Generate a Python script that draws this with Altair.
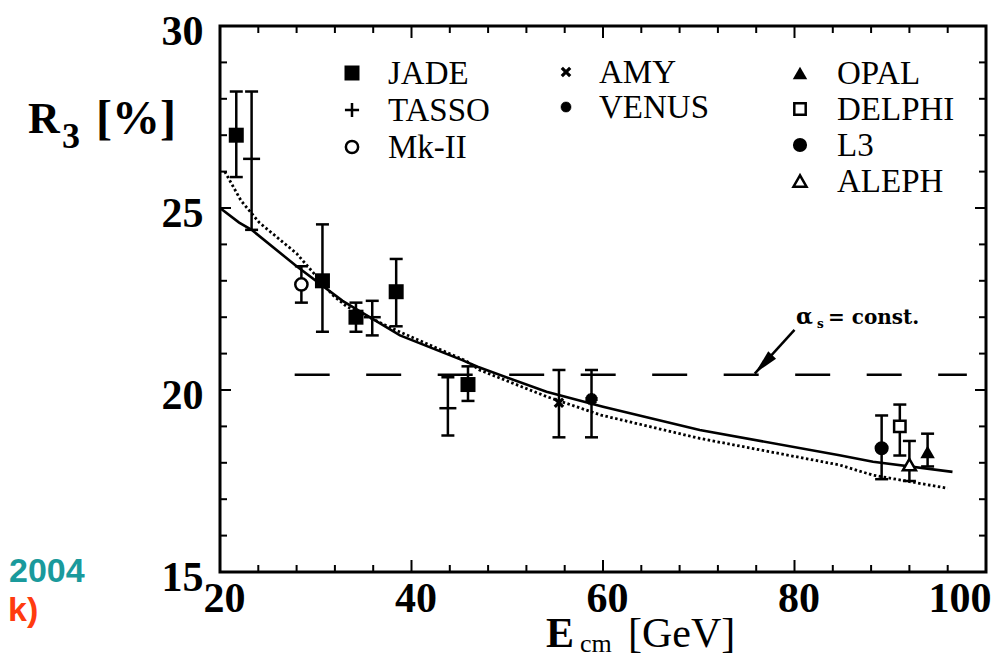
import altair as alt
import pandas as pd

# ---------------- data ----------------
experiments = ["JADE", "TASSO", "Mk-II", "AMY", "VENUS", "OPAL", "DELPHI", "L3", "ALEPH"]

jade_E = [21.7, 30.7, 34.2, 38.4, 45.9]
jade_R = [27.0, 23.0, 22.0, 22.7, 20.15]
jade_lo = [25.85, 21.6, 21.6, 21.75, 19.7]
jade_hi = [28.2, 24.55, 22.4, 23.6, 20.65]

tasso_E = [23.3, 35.9, 43.8]
tasso_R = [26.35, 22.0, 19.5]
tasso_lo = [24.4, 21.5, 18.75]
tasso_hi = [28.2, 22.45, 20.35]

mk2_E = [28.5]
mk2_R = [22.9]
mk2_lo = [22.4]
mk2_hi = [23.4]

amy_E = [55.4]
amy_R = [19.65]
amy_lo = [18.7]
amy_hi = [20.55]

venus_E = [58.8]
venus_R = [19.75]
venus_lo = [18.7]
venus_hi = [20.55]

opal_E = [93.9]
opal_R = [18.3]
opal_lo = [17.9]
opal_hi = [18.8]

delphi_E = [91.0]
delphi_R = [19.0]
delphi_lo = [18.2]
delphi_hi = [19.6]

l3_E = [89.1]
l3_R = [18.4]
l3_lo = [17.55]
l3_hi = [19.3]

aleph_E = [92.0]
aleph_R = [17.95]
aleph_lo = [17.5]
aleph_hi = [18.6]

solid_E = [20, 22, 23.3, 28, 32.8, 38.8, 45.3, 46.9, 54.1, 60, 70.1, 84.7, 88.2, 96.5]
solid_R = [25.0, 24.6, 24.4, 23.4, 22.45, 21.5, 20.82, 20.64, 19.95, 19.54, 18.9, 18.21, 18.03, 17.75]

dotted_E = [20.5, 22.2, 24.1, 28.0, 31.8, 33.2, 37.9, 45.7, 47.1, 54.1, 59.8, 70.1, 84.7, 88.2, 96.0]
dotted_R = [26.0, 25.2, 24.6, 23.75, 22.6, 22.3, 21.7, 20.8, 20.55, 19.82, 19.31, 18.67, 17.94, 17.66, 17.3]

const_E = [27.8, 98.0]
const_R = [20.42, 20.42]

arrow_E = [80.0]
arrow_R = [21.65]
arrow_E2 = [75.85]
arrow_R2 = [20.45]

x_major = [20, 40, 60, 80, 100]
x_minor = [24, 28, 32, 36, 44, 48, 52, 56, 64, 68, 72, 76, 84, 88, 92, 96]
y_major = [15, 20, 25, 30]
y_minor = [16, 17, 18, 19, 21, 22, 23, 24, 26, 27, 28, 29]

# ---------------- layout ----------------
W, H = 766, 546
SERIF = "Liberation Serif"

xscale = alt.Scale(domain=[20, 100], nice=False, zero=False)
yscale = alt.Scale(domain=[15, 30], nice=False, zero=False)

xaxis = alt.Axis(values=x_major, title=None, grid=False, ticks=False, domain=False,
                 labelFont=SERIF, labelFontSize=42, labelFontWeight="bold", labelColor="black",
                 labelPadding=6,
                 labelAlign={"condition": {"test": "datum.value == 100", "value": "right"}, "value": "center"},
                 labelOffset={"condition": {"test": "datum.value == 100", "value": 5}, "value": 4},
                 labelFlush=False, labelOverlap=False)
yaxis = alt.Axis(values=y_major, title=None, grid=False, ticks=False, domain=False,
                 labelFont=SERIF, labelFontSize=42, labelFontWeight="bold", labelColor="black",
                 labelPadding=17, labelOffset=5, labelFlush=False, labelOverlap=False)

X = alt.X("E:Q", scale=xscale, axis=xaxis)
Y = alt.Y("R:Q", scale=yscale, axis=yaxis)

styles = {
    "JADE": dict(shape="square", filled=True, size=225, color="black"),
    "TASSO": dict(shape="M-1,0H1", filled=False, size=289, strokeWidth=2.5, color="black"),
    "Mk-II": dict(shape="circle", filled=True, fill="white", stroke="black", size=150, strokeWidth=2.5),
    "AMY": dict(shape="M-1,-1L1,1M-1,1L1,-1", filled=False, size=70, strokeWidth=3.2, color="black"),
    "VENUS": dict(shape="M-1,0H1M0,-1V1M-0.7,-0.7L0.7,0.7M-0.7,0.7L0.7,-0.7", filled=False,
                  size=150, strokeWidth=4, color="black"),
    "OPAL": dict(shape="triangle-up", filled=True, size=210, color="black"),
    "DELPHI": dict(shape="square", filled=True, fill="white", stroke="black", size=130, strokeWidth=2.5),
    "L3": dict(shape="circle", filled=True, size=200, color="black"),
    "ALEPH": dict(shape="triangle-up", filled=True, fill="white", stroke="black", size=170, strokeWidth=2.5),
}
legend_styles = dict(styles)
legend_styles["TASSO"] = dict(shape="M-1,0H1M0,-1V1", filled=False, size=200, strokeWidth=2.5, color="black")
legend_styles["VENUS"] = dict(shape="M-1,0H1M0,-1V1M-0.7,-0.7L0.7,0.7M-0.7,0.7L0.7,-0.7", filled=False,
                              size=110, strokeWidth=3.5, color="black")

series = {
    "JADE": (jade_E, jade_R, jade_lo, jade_hi),
    "TASSO": (tasso_E, tasso_R, tasso_lo, tasso_hi),
    "Mk-II": (mk2_E, mk2_R, mk2_lo, mk2_hi),
    "AMY": (amy_E, amy_R, amy_lo, amy_hi),
    "VENUS": (venus_E, venus_R, venus_lo, venus_hi),
    "OPAL": (opal_E, opal_R, opal_lo, opal_hi),
    "DELPHI": (delphi_E, delphi_R, delphi_lo, delphi_hi),
    "L3": (l3_E, l3_R, l3_lo, l3_hi),
    "ALEPH": (aleph_E, aleph_R, aleph_lo, aleph_hi),
}

frames = []
for name in experiments:
    e, r, lo, hi = series[name]
    frames.append(pd.DataFrame({"exp": name, "E": e, "R": r, "lo": lo, "hi": hi}))
pts = pd.concat(frames, ignore_index=True)

layers = []

# curves
layers.append(alt.Chart(pd.DataFrame({"E": solid_E, "R": solid_R}))
              .mark_line(color="black", strokeWidth=2.6).encode(x=X, y=Y))
layers.append(alt.Chart(pd.DataFrame({"E": dotted_E, "R": dotted_R}))
              .mark_line(color="black", strokeWidth=2.8, strokeDash=[2.5, 2.5]).encode(x=X, y=Y))
layers.append(alt.Chart(pd.DataFrame({"E": const_E, "R": const_R}))
              .mark_line(color="black", strokeWidth=2.6, strokeDash=[35, 36.5]).encode(x=X, y=Y))

# arrow
arr = pd.DataFrame({"E": arrow_E, "R": arrow_R, "E2": arrow_E2, "R2": arrow_R2})
layers.append(alt.Chart(arr).mark_rule(color="black", strokeWidth=2.5)
              .encode(x=X, y=Y, x2="E2:Q", y2="R2:Q"))
layers.append(alt.Chart(arr).mark_point(shape="M0,0L0.42,2L-0.42,2Z", filled=True, color="black",
                                        size=650, angle=223, opacity=1)
              .encode(x=alt.X("E2:Q", scale=xscale, axis=xaxis), y=alt.Y("R2:Q", scale=yscale, axis=yaxis)))

# error bars
layers.append(alt.Chart(pts).mark_rule(color="black", strokeWidth=2.5)
              .encode(x=X, y=alt.Y("lo:Q", scale=yscale, axis=yaxis), y2="hi:Q"))
for col in ["lo", "hi"]:
    layers.append(alt.Chart(pts).mark_point(shape="M-1,0H1", filled=False, color="black",
                                            size=169, strokeWidth=2.5, opacity=1)
                  .encode(x=X, y=alt.Y(f"{col}:Q", scale=yscale, axis=yaxis)))

# markers
for name in experiments:
    sub = pts[pts["exp"] == name]
    layers.append(alt.Chart(sub).mark_point(opacity=1, **styles[name]).encode(x=X, y=Y))

# inner ticks
def xticks(vals, length):
    d = pd.DataFrame({"E": vals})
    return [alt.Chart(d).mark_rule(color="black", strokeWidth=2).encode(x=X, y=alt.value(H), y2=alt.value(H - length)),
            alt.Chart(d).mark_rule(color="black", strokeWidth=2).encode(x=X, y=alt.value(0), y2=alt.value(length))]

def yticks(vals, length):
    d = pd.DataFrame({"R": vals})
    return [alt.Chart(d).mark_rule(color="black", strokeWidth=2).encode(y=Y, x=alt.value(0), x2=alt.value(length)),
            alt.Chart(d).mark_rule(color="black", strokeWidth=2).encode(y=Y, x=alt.value(W), x2=alt.value(W - length))]

layers += xticks(x_major, 12) + xticks(x_minor, 7)
layers += yticks([20, 25], 11) + yticks(y_minor, 7)

# legend (inside the plot)
leg_pos = {
    "JADE": (132, 47, 168), "TASSO": (132, 84, 168), "Mk-II": (132, 121, 168),
    "AMY": (346, 46, 379), "VENUS": (346, 81, 379),
    "OPAL": (580, 47, 617), "DELPHI": (580, 83, 617), "L3": (580, 119, 617), "ALEPH": (580, 155, 617),
}
for name in experiments:
    sx, sy, tx = leg_pos[name]
    one = pd.DataFrame({"label": [name]})
    layers.append(alt.Chart(one).mark_point(opacity=1, **legend_styles[name])
                  .encode(x=alt.value(sx), y=alt.value(sy)))
    layers.append(alt.Chart(one).mark_text(font=SERIF, fontSize=33, align="left", baseline="middle",
                                           color="black")
                  .encode(x=alt.value(tx), y=alt.value(sy + 1), text="label:N"))

# free text: titles and annotation
def label(txt, x, y, size, weight="normal", font=SERIF, color="black", align="left"):
    return alt.Chart(pd.DataFrame({"t": [txt]})).mark_text(
        font=font, fontSize=size, fontWeight=weight, color=color, align=align, baseline="alphabetic"
    ).encode(x=alt.value(x), y=alt.value(y), text="t:N")

layers += [
    label("R", -192, 107, 44, "bold"),
    label("3", -158, 122, 36, "bold"),
    label("[%]", -124, 108, 48, "bold"),
    label("E", 326, 621, 42, "bold"),
    label("cm", 360, 626, 26),
    label("[GeV]", 408, 621, 42),
    label("α", 576, 298, 22, "bold", "DejaVu Serif"),
    label("s", 597, 302, 12, "bold", "DejaVu Serif"),
    label("= const.", 608, 298, 20, "bold", "DejaVu Serif"),
    label("2004", -211, 556, 34, "bold", "Liberation Sans", "#1a9a9c"),
    label("k)", -212, 595, 34, "bold", "Liberation Sans", "#ff3b0f"),
]

chart = alt.layer(*layers).properties(
    width=W, height=H,
    autosize=alt.AutoSizeParams(type="none"),
    padding={"left": 212, "top": 18, "right": 8, "bottom": 88},
    background="white",
).configure_view(stroke="black", strokeWidth=3)

chart.save("out.html", embed_options={"renderer": "svg", "actions": False})
